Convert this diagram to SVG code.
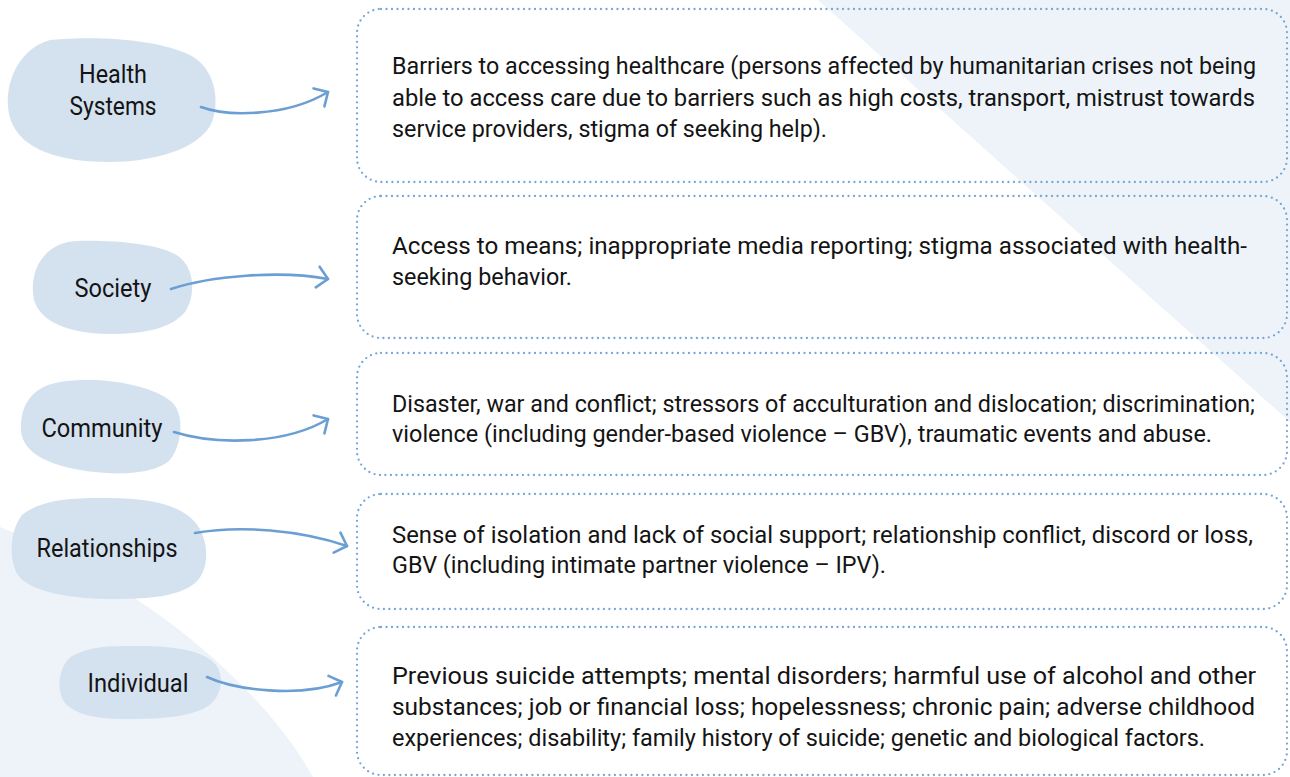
<svg xmlns="http://www.w3.org/2000/svg" width="1290" height="777" viewBox="0 0 1290 777">
  <style>
    .bg { fill: #edf3f9; }
    .blob { fill: #d4e2f0; }
    .lbl { font-family: Roboto, "Liberation Sans", sans-serif; font-size: 25px; fill: #141414; text-anchor: middle; }
    .box { fill: none; stroke: #76a5d6; stroke-width: 2.3; stroke-dasharray: 0 5.5; stroke-linecap: round; }
    .txt { font-family: Roboto, "Liberation Sans", sans-serif; font-size: 24px; fill: #141414; }
    .conn { fill: none; stroke: #6b9fd3; stroke-width: 2.6; stroke-linecap: round; }
  </style>
  <defs>
    <marker id="arrow" markerUnits="userSpaceOnUse" markerWidth="30" markerHeight="30" viewBox="-15 -15 30 30" refX="0" refY="0" orient="auto">
      <path d="M -10.5,-10.5 L 0,0 L -10.5,10.5" fill="none" stroke="#6b9fd3" stroke-width="2.6" stroke-linecap="round" stroke-linejoin="round"/>
    </marker>
  </defs>

  <g id="background">
    <polygon class="bg" points="818,0 1290,0 1290,422"/>
    <path class="bg" d="M 0,527 C 110,570 250,665 313,777 L 0,777 Z"/>
  </g>

  <g id="node-health-systems">
    <path class="blob" d="M 50,40 C 100,35 160,40 190,55 C 215,68 220,100 212,122 C 200,150 150,162 110,162 C 60,162 20,150 10,118 C 2,90 15,50 50,40 Z"/>
    <text class="lbl" x="113" y="83" textLength="68" lengthAdjust="spacingAndGlyphs">Health</text>
    <text class="lbl" x="113" y="115" textLength="87" lengthAdjust="spacingAndGlyphs">Systems</text>
  </g>
  <g id="node-society">
    <path class="blob" d="M 77,241 C 115,240 160,244 178,256 C 195,268 196,295 185,312 C 170,330 140,334 110,334 C 70,334 40,322 34,300 C 28,270 45,242 77,241 Z"/>
    <text class="lbl" x="113" y="297" textLength="77" lengthAdjust="spacingAndGlyphs">Society</text>
  </g>
  <g id="node-community">
    <path class="blob" d="M 60,382 C 100,376 150,384 172,402 C 185,415 182,445 170,460 C 155,474 120,475 95,472 C 55,468 22,455 21,430 C 20,402 35,386 60,382 Z"/>
    <text class="lbl" x="102" y="437" textLength="121" lengthAdjust="spacingAndGlyphs">Community</text>
  </g>
  <g id="node-relationships">
    <path class="blob" d="M 100,498 C 150,497 180,505 195,522 C 210,540 210,570 195,583 C 180,596 150,599 115,599 C 70,599 30,592 18,575 C 8,560 10,530 22,515 C 40,500 70,498 100,498 Z"/>
    <text class="lbl" x="107" y="557" textLength="141" lengthAdjust="spacingAndGlyphs">Relationships</text>
  </g>
  <g id="node-individual">
    <path class="blob" d="M 133,646 C 170,645 205,650 216,665 C 226,680 220,700 205,708 C 185,718 155,719 125,719 C 90,719 70,712 63,700 C 56,685 60,665 72,656 C 90,646 110,646 133,646 Z"/>
    <text class="lbl" x="138" y="692" textLength="101" lengthAdjust="spacingAndGlyphs">Individual</text>
  </g>

  <g id="box-health-systems">
    <rect class="box" x="357" y="9" width="930" height="173" rx="24" ry="24"/>
    <text class="txt" x="392" y="74" textLength="864" lengthAdjust="spacingAndGlyphs">Barriers to accessing healthcare (persons affected by humanitarian crises not being</text>
    <text class="txt" x="392" y="106" textLength="863" lengthAdjust="spacingAndGlyphs">able to access care due to barriers such as high costs, transport, mistrust towards</text>
    <text class="txt" x="392" y="137" textLength="435" lengthAdjust="spacingAndGlyphs">service providers, stigma of seeking help).</text>
  </g>
  <g id="box-society">
    <rect class="box" x="357" y="196" width="930" height="142" rx="24" ry="24"/>
    <text class="txt" x="392" y="254" textLength="855" lengthAdjust="spacingAndGlyphs">Access to means; inappropriate media reporting; stigma associated with health-</text>
    <text class="txt" x="392" y="285" textLength="180" lengthAdjust="spacingAndGlyphs">seeking behavior.</text>
  </g>
  <g id="box-community">
    <rect class="box" x="357" y="353" width="930" height="122" rx="24" ry="24"/>
    <text class="txt" x="392" y="412" textLength="863" lengthAdjust="spacingAndGlyphs">Disaster, war and conflict; stressors of acculturation and dislocation; discrimination;</text>
    <text class="txt" x="392" y="442" textLength="820" lengthAdjust="spacingAndGlyphs">violence (including gender-based violence – GBV), traumatic events and abuse.</text>
  </g>
  <g id="box-relationships">
    <rect class="box" x="357" y="494" width="930" height="115" rx="24" ry="24"/>
    <text class="txt" x="392" y="543" textLength="861" lengthAdjust="spacingAndGlyphs">Sense of isolation and lack of social support; relationship conflict, discord or loss,</text>
    <text class="txt" x="392" y="573" textLength="494" lengthAdjust="spacingAndGlyphs">GBV (including intimate partner violence – IPV).</text>
  </g>
  <g id="box-individual">
    <rect class="box" x="357" y="627" width="930" height="148" rx="24" ry="24"/>
    <text class="txt" x="392" y="684" textLength="864" lengthAdjust="spacingAndGlyphs">Previous suicide attempts; mental disorders; harmful use of alcohol and other</text>
    <text class="txt" x="392" y="715" textLength="863" lengthAdjust="spacingAndGlyphs">substances; job or financial loss; hopelessness; chronic pain; adverse childhood</text>
    <text class="txt" x="392" y="746" textLength="813" lengthAdjust="spacingAndGlyphs">experiences; disability; family history of suicide; genetic and biological factors.</text>
  </g>

  <g id="connectors">
    <path class="conn" marker-end="url(#arrow)" d="M 201,107 C 225,116 285,118 328,92"/>
    <path class="conn" marker-end="url(#arrow)" d="M 171,289 C 210,276 280,270 328,279"/>
    <path class="conn" marker-end="url(#arrow)" d="M 174,432 C 215,445 285,445 328,419"/>
    <path class="conn" marker-end="url(#arrow)" d="M 195,533 C 240,525 300,530 347,546"/>
    <path class="conn" marker-end="url(#arrow)" d="M 207,677 C 235,690 300,698 342,682"/>
  </g>
</svg>
